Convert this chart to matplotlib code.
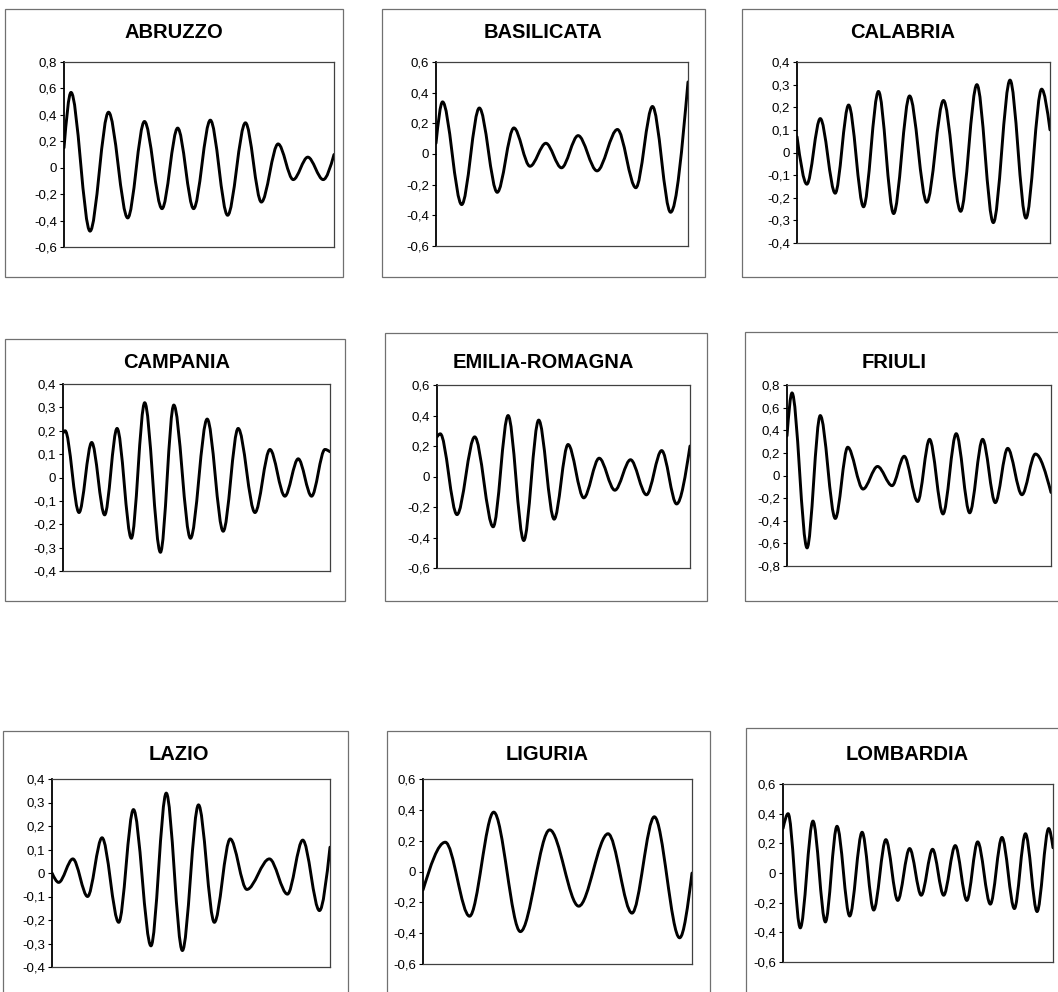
"""Nine regional oscillation panels (scanned-report style), redrawn with matplotlib."""

import matplotlib.pyplot as plt
import numpy as np
from matplotlib.patches import PathPatch, Rectangle
from matplotlib.path import Path
from matplotlib.ticker import FuncFormatter, MultipleLocator

plt.rcParams["font.family"] = ["Liberation Sans", "DejaVu Sans"]

# Turning points: x on a 0-100 scale across the plot area
regions = ["ABRUZZO", "BASILICATA", "CALABRIA",
           "CAMPANIA", "EMILIA-ROMAGNA", "FRIULI",
           "LAZIO", "LIGURIA", "LOMBARDIA"]

abruzzo_x = [0, 2.6, 9.65, 16.5, 23.6, 29.8, 36.3, 42.1, 48.0, 54.2, 60.6, 67.2, 73.1, 79.3, 84.9, 90.3, 96.0, 100]
abruzzo_y = [0.15, 0.57, -0.48, 0.42, -0.38, 0.35, -0.31, 0.30, -0.31, 0.36, -0.36, 0.34, -0.26, 0.18, -0.09, 0.08, -0.09, 0.10]

basilicata_x = [0, 2.6, 10.2, 17.2, 24.3, 30.9, 37.3, 43.6, 49.8, 56.4, 63.9, 72.0, 79.3, 85.9, 93.1, 100]
basilicata_y = [0.07, 0.34, -0.33, 0.30, -0.25, 0.17, -0.08, 0.07, -0.09, 0.12, -0.11, 0.16, -0.22, 0.31, -0.38, 0.47]

calabria_x = [0, 3.9, 9.2, 15.1, 20.4, 26.3, 32.2, 38.2, 44.5, 51.3, 57.9, 64.7, 71.1, 77.6, 84.2, 90.5, 96.7, 100]
calabria_y = [0.07, -0.14, 0.15, -0.18, 0.21, -0.24, 0.27, -0.27, 0.25, -0.22, 0.23, -0.26, 0.30, -0.31, 0.32, -0.29, 0.28, 0.10]

campania_x = [0, 0.8, 6.0, 10.75, 15.6, 20.25, 25.6, 30.6, 36.5, 41.5, 47.75, 54.0, 60.0, 65.6, 71.9, 77.5, 83.1, 88.1, 93.1, 98.1, 100]
campania_y = [0.19, 0.20, -0.15, 0.15, -0.16, 0.21, -0.26, 0.32, -0.32, 0.31, -0.26, 0.25, -0.23, 0.21, -0.15, 0.12, -0.08, 0.08, -0.08, 0.12, 0.11]

emilia_x = [0, 1.3, 7.9, 14.9, 22.2, 28.1, 34.3, 40.2, 46.3, 51.8, 58.0, 64.1, 70.3, 76.5, 82.8, 88.8, 94.7, 100]
emilia_y = [0.26, 0.28, -0.25, 0.26, -0.33, 0.40, -0.42, 0.37, -0.28, 0.21, -0.14, 0.12, -0.09, 0.11, -0.12, 0.17, -0.18, 0.20]

friuli_x = [0, 1.9, 7.6, 12.6, 18.3, 23.0, 28.8, 34.3, 39.8, 44.4, 49.5, 54.0, 59.1, 64.1, 69.2, 74.1, 78.9, 83.6, 89.0, 94.1, 100]
friuli_y = [0.35, 0.73, -0.64, 0.53, -0.38, 0.25, -0.12, 0.08, -0.09, 0.17, -0.23, 0.32, -0.34, 0.37, -0.33, 0.32, -0.24, 0.24, -0.17, 0.19, -0.15]

lazio_x = [0, 2.4, 7.5, 12.8, 18.0, 24.0, 29.3, 35.6, 41.1, 46.9, 52.7, 58.4, 64.1, 70.1, 78.2, 84.7, 90.2, 96.2, 100]
lazio_y = [0.0, -0.04, 0.06, -0.10, 0.15, -0.21, 0.27, -0.31, 0.34, -0.33, 0.29, -0.21, 0.145, -0.07, 0.06, -0.09, 0.14, -0.16, 0.11]

liguria_x = [0, 8.3, 17.3, 26.3, 36.2, 47.1, 57.9, 68.8, 77.7, 86.0, 95.4, 100]
liguria_y = [-0.12, 0.19, -0.29, 0.385, -0.39, 0.27, -0.225, 0.245, -0.27, 0.355, -0.43, -0.01]

lombardia_x = [0, 1.9, 6.4, 11.1, 15.7, 20.0, 24.7, 29.3, 33.6, 38.1, 42.5, 46.9, 51.2, 55.4, 59.5, 63.8,
               68.1, 72.1, 76.8, 81.1, 85.7, 89.8, 94.1, 98.4, 100]
lombardia_y = [0.30, 0.40, -0.37, 0.35, -0.33, 0.315, -0.29, 0.275, -0.25, 0.225, -0.185, 0.165, -0.15, 0.16, -0.15, 0.185,
               -0.185, 0.21, -0.21, 0.24, -0.24, 0.265, -0.26, 0.30, 0.17]

series_x = [abruzzo_x, basilicata_x, calabria_x, campania_x, emilia_x, friuli_x, lazio_x, liguria_x, lombardia_x]
series_y = [abruzzo_y, basilicata_y, calabria_y, campania_y, emilia_y, friuli_y, lazio_y, liguria_y, lombardia_y]

# y-axis range and tick step for each panel
y_limits = [(-0.6, 0.8), (-0.6, 0.6), (-0.4, 0.4),
            (-0.4, 0.4), (-0.6, 0.6), (-0.8, 0.8),
            (-0.4, 0.4), (-0.6, 0.6), (-0.6, 0.6)]
y_steps = [0.2, 0.2, 0.1, 0.1, 0.2, 0.2, 0.1, 0.2, 0.2]

# Layout in pixels (left, top, right, bottom) measured on the 1058x992 page
W, H = 1058, 992
plot_boxes = [(64, 62, 334, 247), (436, 62, 688, 246), (797, 62, 1050, 243),
              (63, 384, 330, 571), (437, 385, 690, 568), (787, 385, 1051, 566),
              (52, 779, 330, 967), (423, 779, 692, 964), (783, 784, 1053, 962)]
frame_boxes = [(5, 9, 343, 277), (382, 9, 705, 277), (742, 9, 1070, 277),
               (5, 339, 345, 601), (385, 333, 707, 601), (745, 332, 1070, 601),
               (3, 731, 348, 1010), (387, 731, 710, 1010), (746, 728, 1070, 1010)]
title_pos = [(174, 33), (543, 33), (903, 33),
             (177, 362), (543, 362), (894, 362),
             (179, 755), (547, 755), (907, 755)]


def smooth_path(xs, ys):
    """Cubic Bezier path through turning points (flat tangent at each interior point)."""
    xs = np.asarray(xs, float)
    ys = np.asarray(ys, float)
    slopes = np.zeros(len(xs))
    slopes[0] = 1.5 * (ys[1] - ys[0]) / (xs[1] - xs[0])
    slopes[-1] = 1.5 * (ys[-1] - ys[-2]) / (xs[-1] - xs[-2])
    verts = [(xs[0], ys[0])]
    codes = [Path.MOVETO]
    for i in range(len(xs) - 1):
        dx = (xs[i + 1] - xs[i]) / 3
        verts += [(xs[i] + dx, ys[i] + slopes[i] * dx),
                  (xs[i + 1] - dx, ys[i + 1] - slopes[i + 1] * dx),
                  (xs[i + 1], ys[i + 1])]
        codes += [Path.CURVE4] * 3
    return Path(verts, codes)


def comma_fmt(v, pos):
    if abs(v) < 1e-9:
        return "0"
    return f"{v:.1f}".replace(".", ",")


fig = plt.figure(figsize=(W / 100, H / 100), dpi=100)
fig.patch.set_facecolor("white")

for i, name in enumerate(regions):
    # outer chart frame
    fl, ft, fr, fb = frame_boxes[i]
    fig.add_artist(Rectangle((fl / W, 1 - fb / H), (fr - fl) / W, (fb - ft) / H,
                             transform=fig.transFigure, fill=False,
                             edgecolor="#707070", linewidth=0.9))

    pl, pt, pr, pb = plot_boxes[i]
    ax = fig.add_axes([pl / W, 1 - pb / H, (pr - pl) / W, (pb - pt) / H])
    ax.set_xlim(0, 100)
    ax.set_ylim(*y_limits[i])
    ax.add_patch(PathPatch(smooth_path(series_x[i], series_y[i]), fill=False,
                           edgecolor="black", linewidth=2.1,
                           capstyle="round", joinstyle="round"))

    ax.set_xticks([])
    ax.yaxis.set_major_locator(MultipleLocator(y_steps[i]))
    ax.yaxis.set_major_formatter(FuncFormatter(comma_fmt))
    ax.tick_params(axis="y", direction="out", length=3, width=0.8,
                   labelsize=9.5, pad=2, colors="black")
    for side in ["top", "right", "bottom"]:
        ax.spines[side].set_color("#404040")
        ax.spines[side].set_linewidth(0.9)
    ax.spines["left"].set_color("black")
    ax.spines["left"].set_linewidth(1.3)

    tx, ty = title_pos[i]
    fig.text(tx / W, 1 - ty / H, name, ha="center", va="center",
             fontsize=14.5, fontweight="bold", color="black")

plt.savefig("out.png", dpi=100)
